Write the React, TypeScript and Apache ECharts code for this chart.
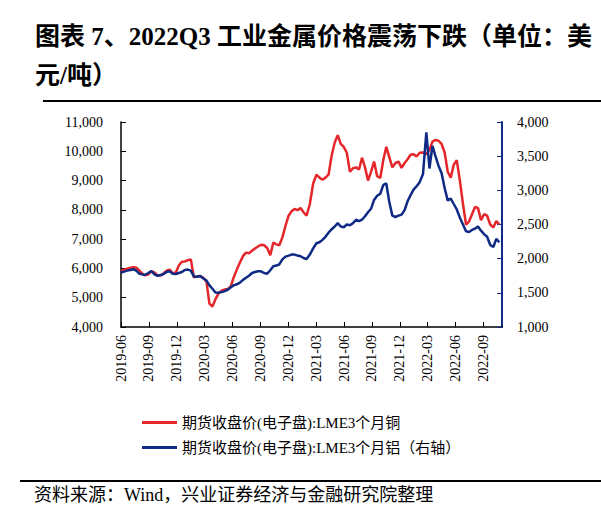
import React, { useEffect, useRef } from "react";
import * as echarts from "echarts";

// Sampling: one point every 10 days starting 2019-06-01
const START = "2019-06-01";
const STEP_DAYS = 10;

// LME 3-month copper (USD/t), left axis
const copper = [
  5913, 5960, 5990, 6020, 6040, 6030, 5930, 5820, 5760, 5800,
  5900, 5860, 5760, 5760, 5830, 5920, 5960, 5830, 5860, 6100,
  6230, 6240, 6280, 6310, 5700, 5720, 5740, 5680, 5550, 4800,
  4700, 4950, 5150, 5240, 5280, 5300, 5380, 5700, 5960, 6200,
  6420, 6540, 6520, 6600, 6680, 6750, 6810, 6790, 6700, 6450,
  6880, 6820, 6790, 7060, 7450, 7800, 7950, 8030, 7990, 8060,
  7920, 7800, 8200, 8900, 9200, 9100, 9030, 9100, 9200, 9850,
  10300, 10550, 10250, 10150, 9950, 9300, 9420, 9450, 9380, 9780,
  9450, 9000, 9300, 9650, 9150, 9090, 9700, 10150, 9800, 9450,
  9600, 9650, 9430, 9600, 9730, 9880, 9900, 9820, 9950, 9960,
  9900, 10050, 10330, 10390, 10360, 10250, 9950, 9300, 9100, 9540,
  9700, 9000, 8200, 7500, 7600, 7850, 8100, 8060, 7650, 7850,
  7800, 7500, 7400, 7620, 7500,
];

// LME 3-month aluminium (USD/t), right axis
const aluminium = [
  1797, 1810, 1825, 1835, 1845, 1825, 1780, 1770, 1765, 1790,
  1820, 1770, 1750, 1760, 1775, 1805, 1815, 1780, 1775, 1790,
  1805, 1835, 1840, 1825, 1740, 1735, 1745, 1710, 1680, 1610,
  1560, 1505, 1500, 1510, 1525, 1545, 1580, 1610, 1625, 1650,
  1690, 1720, 1750, 1790, 1805, 1815, 1815, 1790, 1780, 1830,
  1890, 1900, 1915, 1990, 2030, 2045, 2060, 2060, 2045, 2035,
  2010, 1995, 2060, 2150, 2225, 2240, 2275, 2320, 2380, 2430,
  2470, 2520, 2470, 2460, 2500, 2490, 2520, 2570, 2550, 2570,
  2620, 2680, 2730, 2860, 2920, 2950, 3080, 3100, 2830, 2630,
  2610, 2630, 2645, 2710, 2840, 2930, 3010, 3060, 3120, 3240,
  3850, 3320, 3650, 3500, 3360, 3250, 3030, 2850, 2880, 2800,
  2720, 2600, 2500, 2400, 2390, 2420, 2440, 2470, 2410, 2360,
  2320, 2200, 2170, 2290, 2240,
];

const seriesNames = [
  "期货收盘价(电子盘):LME3个月铜",
  "期货收盘价(电子盘):LME3个月铝（右轴）",
];

const titleText = "图表 7、2022Q3 工业金属价格震荡下跌（单位：美\n元/吨）";
const sourceText = "资料来源：Wind，兴业证券经济与金融研究院整理";

const leftTicks = { min: 4000, max: 11000, interval: 1000 };
const rightTicks = { min: 1000, max: 4000, interval: 500 };

// x axis measured in months since 2019-06
const BASE_YEAR = 2019;
const BASE_MONTH = 6;
const xMax = 41;

function monthOffset(d: Date): number {
  const y = d.getUTCFullYear();
  const m = d.getUTCMonth() + 1;
  const day = d.getUTCDate();
  const dim = new Date(Date.UTC(y, m, 0)).getUTCDate();
  return (y - BASE_YEAR) * 12 + (m - BASE_MONTH) + (day - 1) / dim;
}

function monthLabel(v: number): string {
  const idx = Math.round(v);
  if (Math.abs(v - idx) > 1e-6 || idx % 3 !== 0 || idx >= xMax) return "";
  const total = BASE_MONTH - 1 + idx;
  const y = BASE_YEAR + Math.floor(total / 12);
  const m = (total % 12) + 1;
  return `${y}-${m < 10 ? "0" + m : m}`;
}

const SERIF = "'Liberation Serif', 'Noto Sans CJK SC', serif";

export default function App() {
  const ref = useRef<HTMLDivElement>(null);
  useEffect(() => {
    if (!ref.current) return;
    const chart = echarts.init(ref.current, undefined, { renderer: "svg" });
    const start = new Date(START + "T00:00:00Z").getTime();
    const xs = copper.map((_, i) =>
      monthOffset(new Date(start + i * STEP_DAYS * 86400000))
    );
    chart.setOption({
      animation: false,
      backgroundColor: "#ffffff",
      title: {
        text: titleText,
        left: 30,
        top: 12,
        textStyle: {
          fontFamily: SERIF,
          fontSize: 25,
          fontWeight: "bold",
          color: "#000",
          lineHeight: 39,
        },
      },
      grid: { left: 121, right: 99, top: 122, bottom: 198 },
      legend: {
        orient: "vertical",
        left: 137,
        top: 410,
        itemWidth: 35,
        itemHeight: 3,
        itemGap: 10,
        icon: "rect",
        data: seriesNames,
        textStyle: { fontFamily: SERIF, fontSize: 15, color: "#000" },
      },
      xAxis: {
        type: "value",
        min: 0,
        max: xMax,
        interval: 3,
        axisLine: { lineStyle: { color: "#000", width: 1.5 } },
        axisTick: { inside: true, length: 5, lineStyle: { color: "#000" } },
        splitLine: { show: false },
        axisLabel: {
          rotate: 90,
          margin: 8,
          showMaxLabel: false,
          fontFamily: SERIF,
          fontSize: 14,
          color: "#000",
          formatter: (v: number) => monthLabel(v),
        },
      },
      yAxis: [
        {
          type: "value",
          position: "left",
          ...leftTicks,
          axisLine: { show: true, lineStyle: { color: "#000", width: 1.5 } },
          axisTick: { show: true, inside: true, length: 5, lineStyle: { color: "#000" } },
          splitLine: { show: false },
          axisLabel: {
            margin: 18,
            fontFamily: SERIF,
            fontSize: 14,
            color: "#000",
            formatter: (v: number) => v.toLocaleString("en-US"),
          },
        },
        {
          type: "value",
          position: "right",
          ...rightTicks,
          axisLine: { show: true, lineStyle: { color: "#102A86", width: 2 } },
          axisTick: { show: true, inside: true, length: 5, lineStyle: { color: "#102A86" } },
          splitLine: { show: false },
          axisLabel: {
            margin: 15,
            fontFamily: SERIF,
            fontSize: 14,
            color: "#000",
            formatter: (v: number) => v.toLocaleString("en-US"),
          },
        },
      ],
      series: [
        {
          name: seriesNames[0],
          type: "line",
          yAxisIndex: 0,
          showSymbol: false,
          lineStyle: { color: "#E5262B", width: 2.5 },
          itemStyle: { color: "#E5262B" },
          data: xs.map((x, i) => [x, copper[i]]),
        },
        {
          name: seriesNames[1],
          type: "line",
          yAxisIndex: 1,
          showSymbol: false,
          lineStyle: { color: "#0F2A85", width: 2.5 },
          itemStyle: { color: "#0F2A85" },
          data: xs.map((x, i) => [x, aluminium[i]]),
        },
      ],
      graphic: [
        {
          type: "line",
          shape: { x1: 43, y1: 101, x2: 601, y2: 101 },
          style: { stroke: "#000", lineWidth: 2 },
        },
        {
          type: "line",
          shape: { x1: 20, y1: 481, x2: 601, y2: 481 },
          style: { stroke: "#000", lineWidth: 2 },
        },
        {
          type: "text",
          left: 34,
          top: 486,
          style: {
            text: sourceText,
            font: `18px ${SERIF}`,
            fill: "#000",
          },
        },
      ],
    });
    return () => chart.dispose();
  }, []);
  return (
    <div
      ref={ref}
      style={{ position: "absolute", left: 0, top: 0, width: 601, height: 525 }}
    />
  );
}
